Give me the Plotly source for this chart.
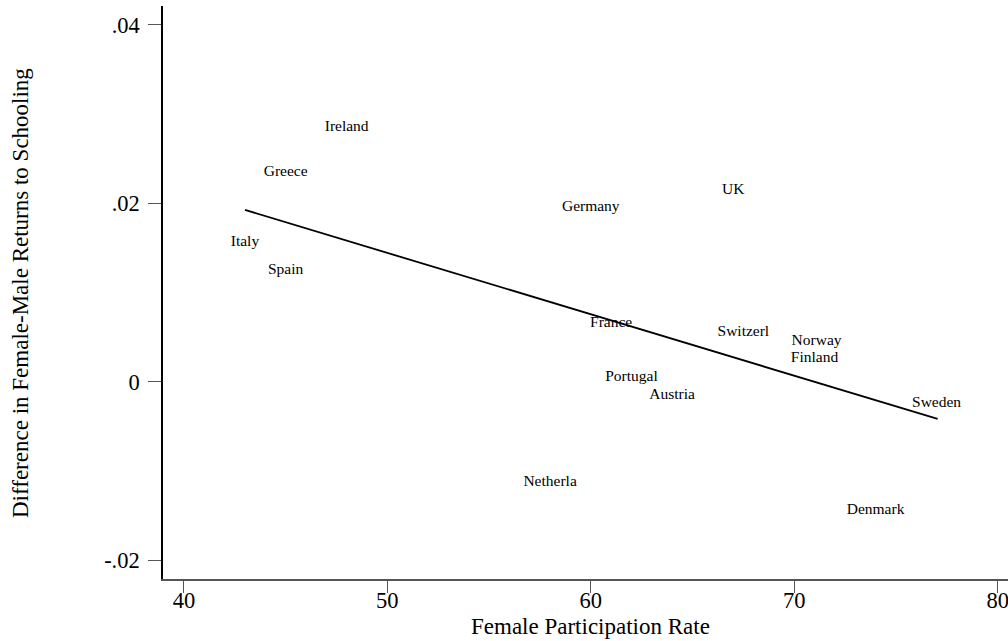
import plotly.graph_objects as go

countries = ["Ireland", "Greece", "Italy", "Spain", "Germany", "UK", "France",
             "Switzerl", "Portugal", "Austria", "Norway", "Finland", "Sweden",
             "Denmark", "Netherla"]
participation = [48.0, 45.0, 43.0, 45.0, 60.0, 67.0, 61.0, 67.5, 62.0, 64.0,
                 71.1, 71.0, 77.0, 74.0, 58.0]
diff_returns = [0.0286, 0.0235, 0.0156, 0.0125, 0.0196, 0.0215, 0.0066, 0.0056,
                0.0005, -0.0015, 0.0045, 0.0026, -0.0024, -0.0144, -0.0113]

# fitted values (linear fit) read at the ends of the drawn line
fit_x = [43.0, 77.05]
fit_y = [0.01926, -0.00418]

x_ticks = [40, 50, 60, 70, 80]
y_ticks = [-0.02, 0, 0.02, 0.04]
y_ticktext = ["-.02", "0", ".02", ".04"]

FONT = "Liberation Serif"

fig = go.Figure()
fig.add_trace(go.Scatter(
    x=fit_x, y=fit_y, mode="lines",
    line=dict(color="black", width=1.8), hoverinfo="skip", showlegend=False))
fig.add_trace(go.Scatter(
    x=participation, y=diff_returns, mode="text", text=countries,
    textposition="middle center",
    textfont=dict(family=FONT, size=15.5, color="black"), showlegend=False))

L, R, T, B = 163, 0, 6, 62
W, H = 1008, 641
pw, ph = W - L - R, H - T - B

fig.update_layout(
    width=W, height=H, autosize=False,
    margin=dict(l=L, r=R, t=T, b=B, pad=0),
    paper_bgcolor="white", plot_bgcolor="white",
    font=dict(family=FONT, size=22, color="black"),
    xaxis=dict(range=[38.97, 80.51], tickvals=x_ticks, ticks="outside",
               ticklen=12, tickcolor="#555", tickwidth=1.2,
               ticklabelstandoff=-12, ticklabeloverflow="allow",
               showline=True, linecolor="#555", linewidth=1.5,
               showgrid=False, zeroline=False,
               tickfont=dict(family=FONT, size=22.5, color="black")),
    yaxis=dict(range=[-0.02213, 0.04213], tickvals=y_ticks, ticktext=y_ticktext,
               ticks="outside", ticklen=13, tickcolor="#555", tickwidth=1.2,
               ticklabelstandoff=4,
               showline=True, linecolor="black", linewidth=1.5,
               showgrid=False, zeroline=False,
               tickfont=dict(family=FONT, size=22.5, color="black")),
    annotations=[
        dict(text="Female Participation Rate", xref="x", x=60,
             yref="paper", y=(579 - 626.5) / ph, xanchor="center", yanchor="middle",
             showarrow=False, font=dict(family=FONT, size=23, color="black")),
        dict(text="Difference in Female-Male Returns to Schooling", textangle=-90,
             xref="paper", x=(20 - L) / pw, yref="paper", y=(579 - 293) / ph,
             xanchor="center", yanchor="middle", showarrow=False,
             font=dict(family=FONT, size=23, color="black")),
    ],
)

fig.write_html(
    "out.html",
    config={"displayModeBar": False},
    post_script="document.body.style.margin='0';document.body.style.overflow='hidden';"
                "document.documentElement.style.overflow='hidden';",
)
